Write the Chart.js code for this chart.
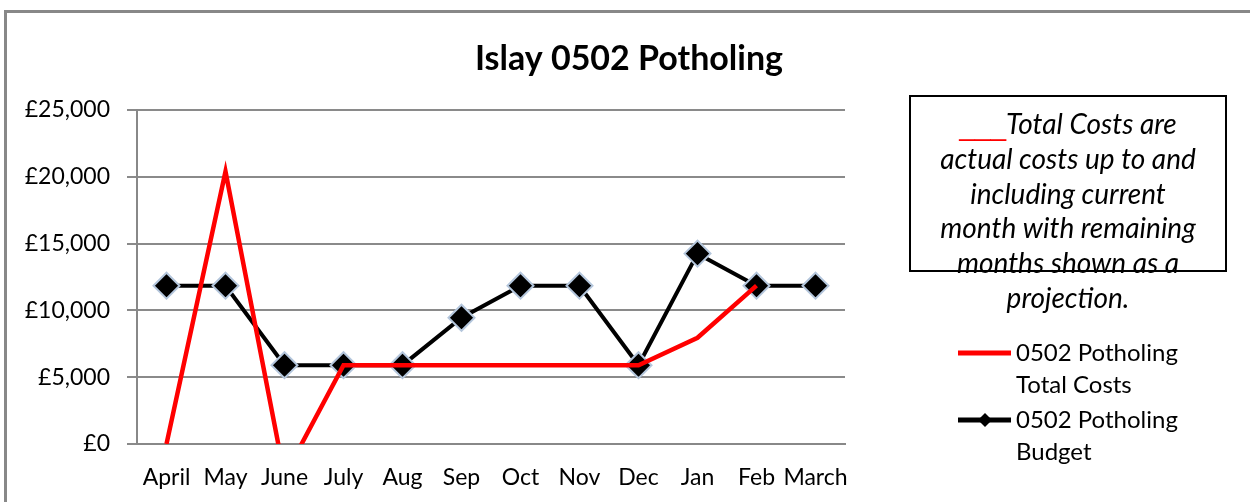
<!DOCTYPE html>
<html>
<head>
<meta charset="utf-8">
<script src="https://cdn.jsdelivr.net/npm/chart.js@4"></script>
<style>
  body { margin: 0; background: #fff; }
  #wrap { position: relative; width: 1250px; height: 502px; }
  #frame { position: absolute; left: 4px; top: 10px; right: 0; bottom: 0;
           border-left: 3px solid #888; border-top: 3px solid #888; }
  canvas { position: absolute; left: 0; top: 0; }
</style>
</head>
<body>
<div id="wrap">
  <div id="frame"></div>
  <canvas id="myChart" width="1250" height="502"></canvas>
</div>
<script>
const months = ["April", "May", "June", "July", "Aug", "Sep", "Oct", "Nov", "Dec", "Jan", "Feb", "March"];
const totalCosts = [0, 20400, -2400, 5900, 5900, 5900, 5900, 5900, 5900, 7950, 11850, null];
const budget = [11850, 11850, 5900, 5900, 5900, 9450, 11850, 11850, 5900, 14250, 11850, 11850];
const yTicks = [0, 5000, 10000, 15000, 20000, 25000];
const chartTitle = "Islay 0502 Potholing";
const noteLines = ["Total Costs are", "actual costs up to and", "including current",
                   "month with remaining", "months shown as a", "projection."];

const FONT = "Lato";

// title centred on the whole canvas, note box + legend on the right
const sidePanel = {
    id: "sidePanel",
    afterDraw(c) {
        const ctx = c.ctx;
        ctx.save();
        ctx.fillStyle = "#000";
        ctx.font = "bold 34px " + FONT;
        ctx.textAlign = "center";
        ctx.textBaseline = "alphabetic";
        ctx.fillText(chartTitle, 629, 70);

        ctx.strokeStyle = "#000";
        ctx.lineWidth = 2;
        ctx.strokeRect(910, 96, 316, 175);

        const noteFont = "italic 28px " + FONT;
        noteLines.forEach((t, i) => {
            const y = 134 + i * 34.8;
            if (i === 0) {
                const us = "___";
                ctx.font = "28px 'Liberation Sans'";
                const w1 = ctx.measureText(us).width;
                ctx.font = noteFont;
                const w2 = ctx.measureText(t).width;
                const x0 = 1068 - (w1 + w2) / 2;
                ctx.textAlign = "left";
                ctx.fillStyle = "#f00";
                ctx.font = "28px 'Liberation Sans'";
                ctx.fillText(us, x0, y + 1);
                ctx.fillStyle = "#000";
                ctx.font = noteFont;
                ctx.fillText(t, x0 + w1, y);
            } else {
                ctx.font = noteFont;
                ctx.textAlign = "center";
                ctx.fillText(t, 1068, y);
            }
        });

        ctx.font = "24px " + FONT;
        ctx.textAlign = "left";
        ctx.textBaseline = "middle";
        c.data.datasets.forEach((ds, i) => {
            const y = 353 + i * 67;
            ctx.strokeStyle = ds.borderColor;
            ctx.lineWidth = 5;
            ctx.beginPath();
            ctx.moveTo(958, y);
            ctx.lineTo(1011, y);
            ctx.stroke();
            if (ds.pointRadius > 0) {
                ctx.fillStyle = ds.pointBackgroundColor;
                ctx.beginPath();
                ctx.moveTo(985 - 7, y);
                ctx.lineTo(985, y - 7);
                ctx.lineTo(985 + 7, y);
                ctx.lineTo(985, y + 7);
                ctx.closePath();
                ctx.fill();
            }
            const words = ds.label.split(" ");
            ctx.fillStyle = "#000";
            ctx.fillText(words.slice(0, 2).join(" "), 1016, y);
            ctx.fillText(words.slice(2).join(" "), 1016, y + 32);
        });
        ctx.restore();
    }
};

new Chart(document.getElementById("myChart"), {
    type: "line",
    data: {
        labels: months,
        datasets: [
            {
                label: "0502 Potholing Total Costs",
                data: totalCosts,
                borderColor: "#ff0000",
                borderWidth: 4.5,
                pointRadius: 0,
                pointHoverRadius: 0,
                fill: false,
                spanGaps: false
            },
            {
                label: "0502 Potholing Budget",
                data: budget,
                borderColor: "#000000",
                borderWidth: 4,
                pointStyle: "rectRot",
                pointRadius: 13,
                pointBackgroundColor: "#000000",
                pointBorderColor: "#b4c6dc",
                pointBorderWidth: 2,
                fill: false
            }
        ]
    },
    options: {
        animation: false,
        responsive: false,
        events: [],
        layout: { padding: { left: 10, right: 405, top: 110, bottom: 0 } },
        plugins: {
            legend: { display: false },
            tooltip: { enabled: false },
            title: { display: false }
        },
        scales: {
            x: {
                offset: true,
                grid: { display: false, drawTicks: false },
                border: { display: true, color: "#888", width: 2 },
                afterFit: s => { s.height = 58; },
                ticks: {
                    color: "#000",
                    font: { family: FONT, size: 23 },
                    padding: 20,
                    maxRotation: 0,
                    autoSkip: false
                }
            },
            y: {
                min: 0,
                max: 25000,
                afterFit: s => { s.width = 127; },
                afterBuildTicks: s => { s.ticks = yTicks.map(v => ({ value: v })); },
                grid: { color: "#8a8a8a", lineWidth: 2, tickLength: 10 },
                border: { display: true, color: "#888", width: 2 },
                ticks: {
                    color: "#000",
                    font: { family: FONT, size: 23 },
                    padding: 17,
                    callback: v => "£" + v.toLocaleString("en-GB")
                }
            }
        }
    },
    plugins: [sidePanel]
});
</script>
</body>
</html>
